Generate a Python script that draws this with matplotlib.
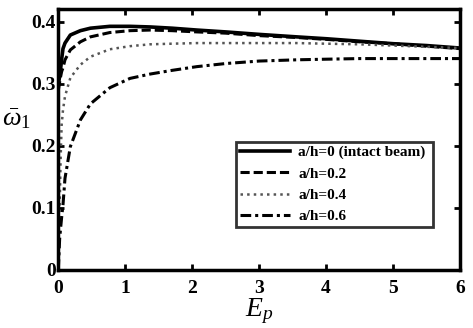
import numpy as np
import matplotlib.pyplot as plt

plt.rcParams['font.family'] = 'Liberation Serif'
plt.rcParams['mathtext.fontset'] = 'custom'
plt.rcParams['mathtext.rm'] = 'Liberation Serif'
plt.rcParams['mathtext.it'] = 'Liberation Serif:italic'

# values
ep = [0.0, 0.02, 0.035, 0.05, 0.07, 0.1, 0.18, 0.33, 0.48, 0.77, 1.07, 1.37,
      1.7, 2.07, 2.5, 3.0, 3.56, 4.0, 4.5, 5.0, 5.5, 6.0]
w_intact = [0.300, 0.312, 0.325, 0.340, 0.357, 0.366, 0.379, 0.386, 0.390, 0.393, 0.393, 0.392,
            0.390, 0.387, 0.384, 0.380, 0.376, 0.373, 0.369, 0.365, 0.362, 0.358]
w_02 = [0.290, 0.303, 0.312, 0.320, 0.326, 0.339, 0.355, 0.368, 0.376, 0.383, 0.386, 0.387,
        0.386, 0.384, 0.382, 0.378, 0.375, 0.372, 0.368, 0.365, 0.361, 0.357]
w_04 = [0.040, 0.100, 0.180, 0.234, 0.258, 0.280, 0.310, 0.331, 0.344, 0.356, 0.361, 0.364,
        0.365, 0.366, 0.366, 0.366, 0.366, 0.365, 0.364, 0.362, 0.360, 0.358]
w_06 = [0.000, 0.050, 0.068, 0.085, 0.105, 0.148, 0.199, 0.242, 0.268, 0.294, 0.309, 0.316,
        0.322, 0.328, 0.333, 0.337, 0.339, 0.340, 0.341, 0.341, 0.341, 0.341]
labels = ['a/h=0 (intact beam)', 'a/h=0.2', 'a/h=0.4', 'a/h=0.6']

fig = plt.figure(figsize=(4.73, 3.28), dpi=100)
ax = fig.add_axes([58.3/473, 1 - 270/328, 401.7/473, 261.4/328])

ax.plot(ep, w_intact, 'k-', lw=2.6, label=labels[0])
ax.plot(ep, w_02, 'k--', lw=2.2, dashes=(3, 1.3), label=labels[1])
ax.plot(ep, w_04, ':', color='#555555', lw=1.8, label=labels[2])
ax.plot(ep, w_06, 'k-.', lw=2.2, dashes=(3.5, 1.3, 1, 1.3), label=labels[3])

ax.set_xlim(0, 6)
ax.set_ylim(0, 0.4216)
ax.set_xticks([0, 1, 2, 3, 4, 5, 6])
ax.set_yticks([0, 0.1, 0.2, 0.3, 0.4])
ax.set_yticklabels(['0', '0.1', '0.2', '0.3', '0.4'])
ax.tick_params(direction='in', top=True, right=True, width=2, length=4,
               labelsize=14)
ax.tick_params(axis='x', pad=7)
ax.tick_params(axis='y', pad=2)
for lab in ax.get_xticklabels() + ax.get_yticklabels():
    lab.set_fontweight('bold')
for s in ax.spines.values():
    s.set_linewidth(2.5)

ax.set_xlabel(r'$E_p$', fontsize=20, labelpad=0)
ax.set_ylabel(r'$\bar{\omega}_1$', fontsize=19, rotation=0)
ax.yaxis.set_label_coords(-0.105, 0.53)

leg = ax.legend(loc='lower left', bbox_to_anchor=(0.443, 0.164, 0.49, 0.513 - 0.164),
                mode='expand', prop={'weight': 'bold', 'size': 11},
                handlelength=3.3, frameon=True, fancybox=False,
                edgecolor='black', borderaxespad=0, borderpad=0.25,
                labelspacing=0.5, handletextpad=0.5)
leg.get_frame().set_linewidth(2)

fig.savefig('out.png', dpi=100)
